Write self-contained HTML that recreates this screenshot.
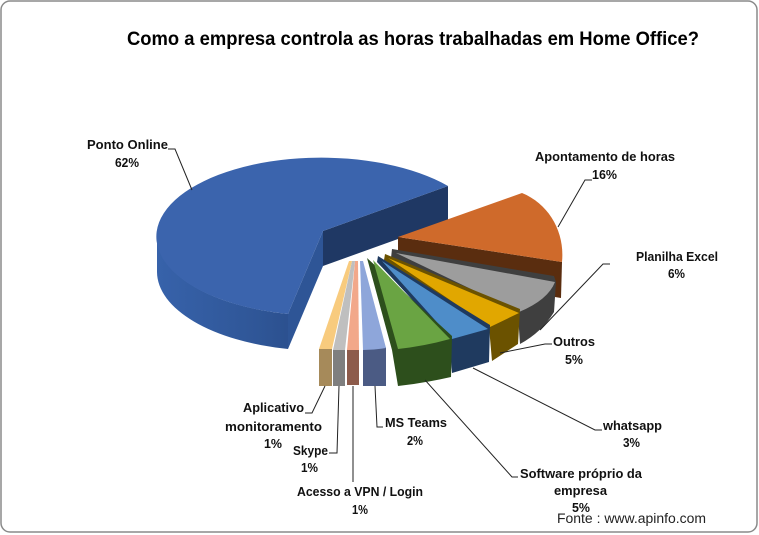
<!DOCTYPE html>
<html>
<head>
<meta charset="utf-8">
<style>
  html,body{margin:0;padding:0;background:#fff;}
  svg{display:block;}
  .lb{font-family:"Liberation Sans",Arial,sans-serif;font-weight:bold;font-size:12.5px;fill:#111;}
  .ld{fill:none;stroke:#222;stroke-width:1;}
</style>
</head>
<body>
<svg width="759" height="535" viewBox="0 0 759 535" xmlns="http://www.w3.org/2000/svg">
  <defs>
    <linearGradient id="rim" x1="157" y1="0" x2="325" y2="0" gradientUnits="userSpaceOnUse">
      <stop offset="0" stop-color="#3762AA"/>
      <stop offset="0.6" stop-color="#2F5697"/>
      <stop offset="1" stop-color="#284A86"/>
    </linearGradient>
  </defs>
  <rect x="0" y="0" width="759" height="535" fill="#fff"/>
  <rect x="1" y="1" width="756" height="531" rx="9" ry="9" fill="#fff" stroke="#8a8a8a" stroke-width="1.5"/>

  <!-- Title -->
  <text x="127" y="45" textLength="572" lengthAdjust="spacingAndGlyphs" style="font-family:'Liberation Sans',Arial,sans-serif;font-weight:bold;font-size:19px;fill:#000;">Como a empresa controla  as horas  trabalhadas  em Home Office?</text>

  <!-- Big blue slice: Ponto Online -->
  <path d="M157,237 A165,79 0 0 0 288,314 L288,349 A165,79 0 0 1 157,272 Z" fill="url(#rim)"/>
  <path d="M323,231 L288,314 L288,349 L323,266 Z" fill="#2E5596"/>
  <path d="M323,231 L448,186 L448,221 L323,266 Z" fill="#1F3864"/>
  <path d="M448,186 A165,79 0 1 0 288,314 L323,231 Z" fill="#3B64AD"/>

  <!-- Apontamento de horas (orange) -->
  <path d="M398,237 L562,262 L561,298 L398,271 Z" fill="#5A2D0F"/>
  <path d="M398,237 L522,193 C549,204 565,232 562,262 Z" fill="#CF6A2B"/>

  <!-- Planilha Excel (gray) -->
  <path d="M392,249 L554,276 L556,282 L554,312 Q542,332 520,344 L518,314 L391,258 Z" fill="#3F3F3F"/>
  <path d="M396,253 L555,282 Q548,300 519,312 Z" fill="#9D9D9D"/>

  <!-- Outros (gold) -->
  <path d="M385,254 L520,309 L518,344 L492,361 L489,327 L384,260 Z" fill="#6B5200"/>
  <path d="M388,258 L519,313 L490,327 Z" fill="#E1A700"/>

  <!-- whatsapp (blue) -->
  <path d="M378,256 L490,325 L489,362 L452,373 L449,339 L377,262 Z" fill="#1F3A5F"/>
  <path d="M382,261 L488,329 L452,339 Z" fill="#4E8DC9"/>

  <!-- Software proprio (green) -->
  <path d="M367,258 L452,336 L451,377 Q425,383 398,386 L392,350 Z" fill="#2D4F1C"/>
  <path d="M373,260 L450,339 Q425,346 398,349 Z" fill="#6AA443"/>

  <!-- MS Teams -->
  <path d="M363,349 L386,347 L386,386 L363,386 Z" fill="#4B5B84"/>
  <path d="M360,261 L363,261 L386,348 Q375,350 363,350 Z" fill="#8EA6DA"/>

  <!-- Acesso VPN -->
  <path d="M347,350 L359,350 L359,385 L347,385 Z" fill="#8D5B4B"/>
  <path d="M355,261 L358,261 L359,350 L347,350 Z" fill="#F2A88A"/>

  <!-- Skype -->
  <path d="M333,350 L345,350 L345,386 L333,386 Z" fill="#7F7F7F"/>
  <path d="M352,261 L355,261 L345,350 L333,350 Z" fill="#BFBFBF"/>

  <!-- Aplicativo -->
  <path d="M319,349 L332,349 L332,386 L319,386 Z" fill="#A68A5A"/>
  <path d="M349,261 L352,261 L332,349 L319,349 Z" fill="#F8CB7E"/>

  <!-- Leader lines -->
  <polyline class="ld" points="168,149 175,149 192,190"/>
  <polyline class="ld" points="558,227 585,180 592,180"/>
  <polyline class="ld" points="540,330 603,264 610,264"/>
  <polyline class="ld" points="500,353 545,344 552,344"/>
  <polyline class="ld" points="473,368 595,430 602,430"/>
  <polyline class="ld" points="425,380 512,477 518,477"/>
  <polyline class="ld" points="375,386 377,427 383,427"/>
  <polyline class="ld" points="305,413 312,413 325,386"/>
  <polyline class="ld" points="339,386 337,453 329,453"/>
  <polyline class="ld" points="353,386 353,482"/>

  <!-- Labels -->
  <text class="lb" x="87" y="149" textLength="81" lengthAdjust="spacingAndGlyphs">Ponto Online</text>
  <text class="lb" x="115" y="167" textLength="24" lengthAdjust="spacingAndGlyphs">62%</text>

  <text class="lb" x="535" y="161" textLength="140" lengthAdjust="spacingAndGlyphs">Apontamento de horas</text>
  <text class="lb" x="592" y="179" textLength="25" lengthAdjust="spacingAndGlyphs">16%</text>

  <text class="lb" x="636" y="261" textLength="82" lengthAdjust="spacingAndGlyphs">Planilha Excel</text>
  <text class="lb" x="668" y="278" textLength="17" lengthAdjust="spacingAndGlyphs">6%</text>

  <text class="lb" x="553" y="346" textLength="42" lengthAdjust="spacingAndGlyphs">Outros</text>
  <text class="lb" x="565" y="364" textLength="18" lengthAdjust="spacingAndGlyphs">5%</text>

  <text class="lb" x="603" y="430" textLength="59" lengthAdjust="spacingAndGlyphs">whatsapp</text>
  <text class="lb" x="623" y="447" textLength="17" lengthAdjust="spacingAndGlyphs">3%</text>

  <text class="lb" x="520" y="478" textLength="122" lengthAdjust="spacingAndGlyphs">Software próprio da</text>
  <text class="lb" x="554" y="495" textLength="53" lengthAdjust="spacingAndGlyphs">empresa</text>
  <text class="lb" x="572" y="512" textLength="18" lengthAdjust="spacingAndGlyphs">5%</text>

  <text class="lb" x="385" y="427" textLength="62" lengthAdjust="spacingAndGlyphs">MS Teams</text>
  <text class="lb" x="407" y="445" textLength="16" lengthAdjust="spacingAndGlyphs">2%</text>

  <text class="lb" x="243" y="412" textLength="61" lengthAdjust="spacingAndGlyphs">Aplicativo</text>
  <text class="lb" x="225" y="431" textLength="97" lengthAdjust="spacingAndGlyphs">monitoramento</text>
  <text class="lb" x="264" y="448" textLength="18" lengthAdjust="spacingAndGlyphs">1%</text>

  <text class="lb" x="293" y="455" textLength="35" lengthAdjust="spacingAndGlyphs">Skype</text>
  <text class="lb" x="301" y="472" textLength="17" lengthAdjust="spacingAndGlyphs">1%</text>

  <text class="lb" x="297" y="496" textLength="126" lengthAdjust="spacingAndGlyphs">Acesso a VPN / Login</text>
  <text class="lb" x="352" y="514" textLength="16" lengthAdjust="spacingAndGlyphs">1%</text>

  <text x="557" y="523" textLength="149" lengthAdjust="spacingAndGlyphs" style="font-family:'Liberation Sans',Arial,sans-serif;font-size:13.5px;fill:#222;">Fonte : www.apinfo.com</text>
</svg>
</body>
</html>
